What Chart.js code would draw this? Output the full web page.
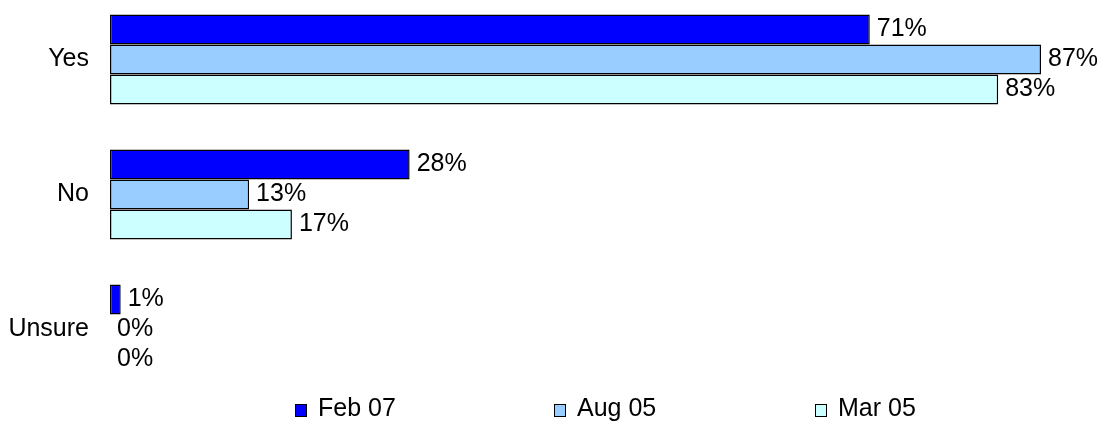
<!DOCTYPE html>
<html>
<head>
<meta charset="utf-8">
<script src="https://cdn.jsdelivr.net/npm/chart.js@4/dist/chart.umd.min.js"></script>
<style>
  html, body { margin: 0; padding: 0; background: #fff; }
  #wrap { position: relative; width: 1102px; height: 423px; overflow: hidden; background: #fff; }
  #c { position: absolute; left: 0; top: -8px; }
  .lg { position: absolute; top: 395px; height: 25px; line-height: 25px; font-family: "Liberation Sans", Arial, sans-serif; font-size: 25px; color: #000; white-space: nowrap; }
  .lg .sw { position: absolute; left: -23px; top: 9px; width: 10px; height: 11px; border: 1px solid #000; }
</style>
</head>
<body>
<div id="wrap">
  <canvas id="c" width="1102" height="405"></canvas>
</div>
<script>
const categories = ['Yes', 'No', 'Unsure'];
const seriesNames = ['Feb 07', 'Aug 05', 'Mar 05'];
const feb07 = [71, 28, 1];
const aug05 = [87, 13, 0];
const mar05 = [83, 17, 0];
const seriesColors = ['#0000FF', '#99CCFF', '#CCFFFF'];

const seriesValues = [feb07, aug05, mar05];
const FONT = '"Liberation Sans", Arial, sans-serif';

const labelPlugin = {
  id: 'valueLabels',
  afterDatasetsDraw(chart) {
    const ctx = chart.ctx;
    ctx.save();
    ctx.font = '25px ' + FONT;
    ctx.fillStyle = '#000';
    ctx.textAlign = 'left';
    ctx.textBaseline = 'middle';
    chart.data.datasets.forEach((ds, di) => {
      const meta = chart.getDatasetMeta(di);
      meta.data.forEach((el, i) => {
        ctx.fillText(ds.data[i] + '%', el.x + 7, el.y);
      });
    });
    ctx.restore();
  }
};

new Chart(document.getElementById('c'), {
  type: 'bar',
  data: {
    labels: categories,
    datasets: seriesNames.map((name, i) => ({
      label: name,
      data: seriesValues[i],
      backgroundColor: seriesColors[i],
      borderColor: '#000',
      borderWidth: 1.5,
      borderSkipped: false,
      categoryPercentage: 0.667,
      barPercentage: 1.0
    }))
  },
  options: {
    indexAxis: 'y',
    responsive: false,
    animation: false,
    devicePixelRatio: 1,
    layout: { padding: 0 },
    plugins: { legend: { display: false }, tooltip: { enabled: false } },
    scales: {
      x: { type: 'linear', min: 0, max: 92.7, display: false },
      y: {
        grid: { display: false, drawTicks: false },
        border: { display: false },
        ticks: { color: '#000', font: { family: FONT, size: 25 }, padding: 21 },
        afterFit(s) { s.width = 110; s.paddingTop = 0; s.paddingBottom = 0; }
      }
    }
  },
  plugins: [labelPlugin]
});

const legendX = [318, 577, 838];
const wrap = document.getElementById('wrap');
seriesNames.forEach((name, i) => {
  const d = document.createElement('div');
  d.className = 'lg';
  d.style.left = legendX[i] + 'px';
  const sw = document.createElement('span');
  sw.className = 'sw';
  sw.style.background = seriesColors[i];
  d.appendChild(sw);
  d.appendChild(document.createTextNode(name));
  wrap.appendChild(d);
});
</script>
</body>
</html>
